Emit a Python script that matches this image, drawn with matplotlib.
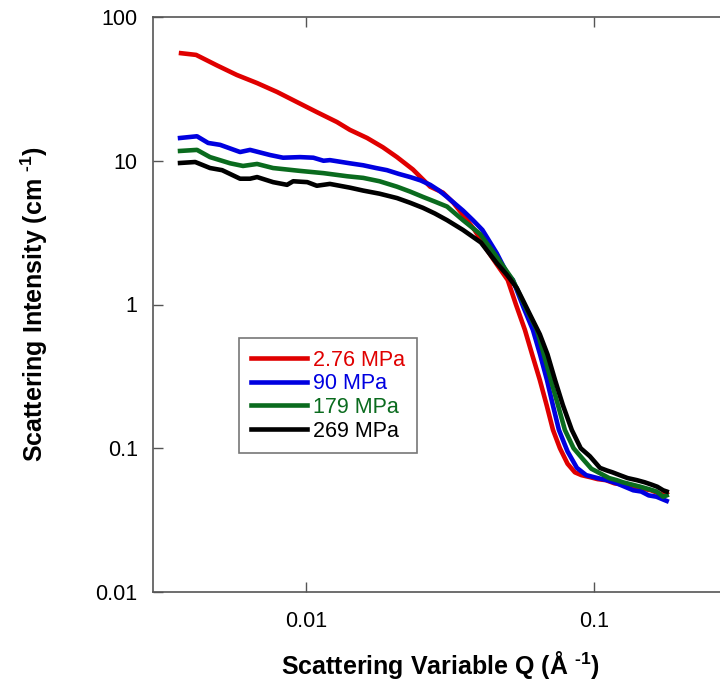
import matplotlib
matplotlib.use("Agg")
import matplotlib.pyplot as plt
from matplotlib.ticker import FixedLocator, FixedFormatter, NullLocator

# SANS curves: Q (1/A) and intensity (1/cm)
q_276 = [0.00368, 0.00415, 0.00491, 0.00575, 0.00676, 0.00793, 0.0093, 0.0109, 0.0128, 0.0142,
         0.0163, 0.0185, 0.0207, 0.0235, 0.027, 0.0299, 0.0325, 0.0351, 0.0385, 0.0425,
         0.046, 0.0502, 0.0536, 0.0576, 0.0610, 0.0649, 0.0685, 0.0721, 0.0762, 0.081,
         0.0859, 0.0905, 0.0968, 0.103, 0.110, 0.118, 0.126, 0.134, 0.142, 0.150,
         0.158, 0.166, 0.174, 0.179]
i_276 = [56, 54.5, 46, 39.5, 34.7, 30.1, 25.6, 21.8, 18.6, 16.4,
         14.4, 12.4, 10.6, 8.7, 6.6, 6.0, 5.1, 4.2, 3.3, 2.4,
         1.9, 1.48, 1.0, 0.665, 0.45, 0.298, 0.2, 0.134, 0.100, 0.078,
         0.068, 0.065, 0.063, 0.061, 0.060, 0.057, 0.056, 0.055, 0.053, 0.052,
         0.051, 0.049, 0.0474, 0.049]

q_90 = [0.00365, 0.00418, 0.00457, 0.00503, 0.0059, 0.00639, 0.0075, 0.00832, 0.00953, 0.0106,
        0.0115, 0.0121, 0.0142, 0.0158, 0.0175, 0.0191, 0.021, 0.023, 0.025, 0.027,
        0.029, 0.0309, 0.033, 0.0351, 0.038, 0.041, 0.046, 0.0499, 0.0523, 0.057,
        0.0614, 0.065, 0.0687, 0.072, 0.0756, 0.081, 0.0873, 0.094, 0.103, 0.111,
        0.12, 0.128, 0.137, 0.146, 0.155, 0.165, 0.174, 0.179]
i_90 = [14.4, 14.8, 13.3, 12.9, 11.5, 11.9, 10.96, 10.5, 10.6, 10.5,
        10.0, 10.1, 9.6, 9.3, 8.9, 8.6, 8.1, 7.7, 7.3, 6.8,
        6.2, 5.6, 5.0, 4.5, 3.86, 3.3, 2.27, 1.65, 1.48, 0.95,
        0.665, 0.45, 0.298, 0.2, 0.134, 0.095, 0.073, 0.065, 0.062, 0.060,
        0.057, 0.054, 0.051, 0.050, 0.047, 0.046, 0.044, 0.043]

q_179 = [0.00365, 0.00418, 0.00464, 0.00545, 0.00604, 0.00676, 0.00768, 0.00953, 0.0115, 0.0139,
         0.0158, 0.018, 0.0207, 0.023, 0.0255, 0.028, 0.0309, 0.0351, 0.0402, 0.046,
         0.0523, 0.058, 0.0634, 0.067, 0.0709, 0.075, 0.0793, 0.085, 0.0916, 0.098,
         0.105, 0.113, 0.12, 0.126, 0.135, 0.145, 0.155, 0.165, 0.174, 0.179]
i_179 = [11.7, 11.9, 10.6, 9.6, 9.2, 9.5, 8.9, 8.5, 8.2, 7.8,
         7.6, 7.2, 6.6, 6.1, 5.6, 5.2, 4.8, 3.86, 3.1, 2.14,
         1.48, 0.95, 0.665, 0.45, 0.298, 0.2, 0.134, 0.1, 0.084, 0.072,
         0.067, 0.062, 0.060, 0.058, 0.056, 0.054, 0.052, 0.050, 0.046, 0.047]

q_269 = [0.00365, 0.00412, 0.00464, 0.00511, 0.0059, 0.00639, 0.00676, 0.00768, 0.00859, 0.00902,
         0.0101, 0.0109, 0.0121, 0.0142, 0.0158, 0.018, 0.0207, 0.023, 0.0255, 0.028,
         0.0309, 0.0351, 0.0405, 0.046, 0.05, 0.054, 0.0567, 0.06, 0.0649, 0.069,
         0.0733, 0.078, 0.0838, 0.09, 0.0968, 0.105, 0.111, 0.116, 0.123, 0.131,
         0.141, 0.15, 0.158, 0.166, 0.174, 0.179]
i_269 = [9.65, 9.8, 8.9, 8.6, 7.5, 7.5, 7.7, 7.1, 6.8, 7.2,
         7.1, 6.7, 6.9, 6.5, 6.2, 5.9, 5.5, 5.1, 4.7, 4.3,
         3.86, 3.3, 2.7, 1.94, 1.6, 1.3, 1.07, 0.85, 0.62, 0.45,
         0.298, 0.2, 0.134, 0.1, 0.088, 0.073, 0.070, 0.068, 0.065, 0.062,
         0.060, 0.058, 0.056, 0.054, 0.051, 0.050]

labels = ["2.76 MPa", "90 MPa", "179 MPa", "269 MPa"]
colors = ["#e00000", "#0000e0", "#0a6b1e", "#000000"]

x_ticks = [0.01, 0.1]
x_ticklabels = ["0.01", "0.1"]
y_ticks = [0.01, 0.1, 1, 10, 100]
y_ticklabels = ["0.01", "0.1", "1", "10", "100"]

plt.rcParams.update({
    "font.family": ["Liberation Sans", "DejaVu Sans"],
    "mathtext.fontset": "custom",
    "mathtext.rm": "Liberation Sans:bold",
    "mathtext.bf": "Liberation Sans:bold",
})

fig = plt.figure(figsize=(7.2, 6.94), dpi=100)
ax = fig.add_axes([153 / 720, 1 - 592 / 694, 574 / 720, 575 / 694])

series = [(q_276, i_276), (q_90, i_90), (q_179, i_179), (q_269, i_269)]
for (q, inten), lab, c in zip(series, labels, colors):
    ax.plot(q, inten, color=c, lw=3.3, label=lab, solid_joinstyle="round")

ax.set_xscale("log")
ax.set_yscale("log")
ax.set_xlim(0.00294, 0.29)
ax.set_ylim(0.01, 100)

ax.xaxis.set_major_locator(FixedLocator(x_ticks))
ax.xaxis.set_major_formatter(FixedFormatter(x_ticklabels))
ax.yaxis.set_major_locator(FixedLocator(y_ticks))
ax.yaxis.set_major_formatter(FixedFormatter(y_ticklabels))
ax.xaxis.set_minor_locator(NullLocator())
ax.yaxis.set_minor_locator(NullLocator())

ax.tick_params(which="major", direction="in", length=7, width=1.0, color="#555555",
               top=True, right=False, labelsize=15.5, labelcolor="black")
ax.tick_params(axis="x", pad=14)
ax.tick_params(axis="y", pad=11)
for sp in ax.spines.values():
    sp.set_color("#555555")
    sp.set_linewidth(1.2)

ax.set_xlabel(r"Scattering Variable Q (Å $^{\text{-1}}$)", fontsize=18, fontweight="bold",
              labelpad=12)
ax.set_ylabel(r"Scattering Intensity (cm $^{\text{-1}}$)", fontsize=18, fontweight="bold",
              labelpad=33)

leg = ax.legend(loc="upper left", bbox_to_anchor=(239 / 720, 1 - 338 / 694),
                bbox_transform=fig.transFigure, fontsize=15.5, frameon=True, fancybox=False,
                edgecolor="#555555", handlelength=2.6, handletextpad=0.3,
                labelspacing=0.12, borderpad=0.55, borderaxespad=0)
leg.get_frame().set_linewidth(1.2)
for txt, c in zip(leg.get_texts(), colors):
    txt.set_color(c)
for ln in leg.get_lines():
    ln.set_linewidth(3.3)

fig.savefig("out.png", dpi=100)
